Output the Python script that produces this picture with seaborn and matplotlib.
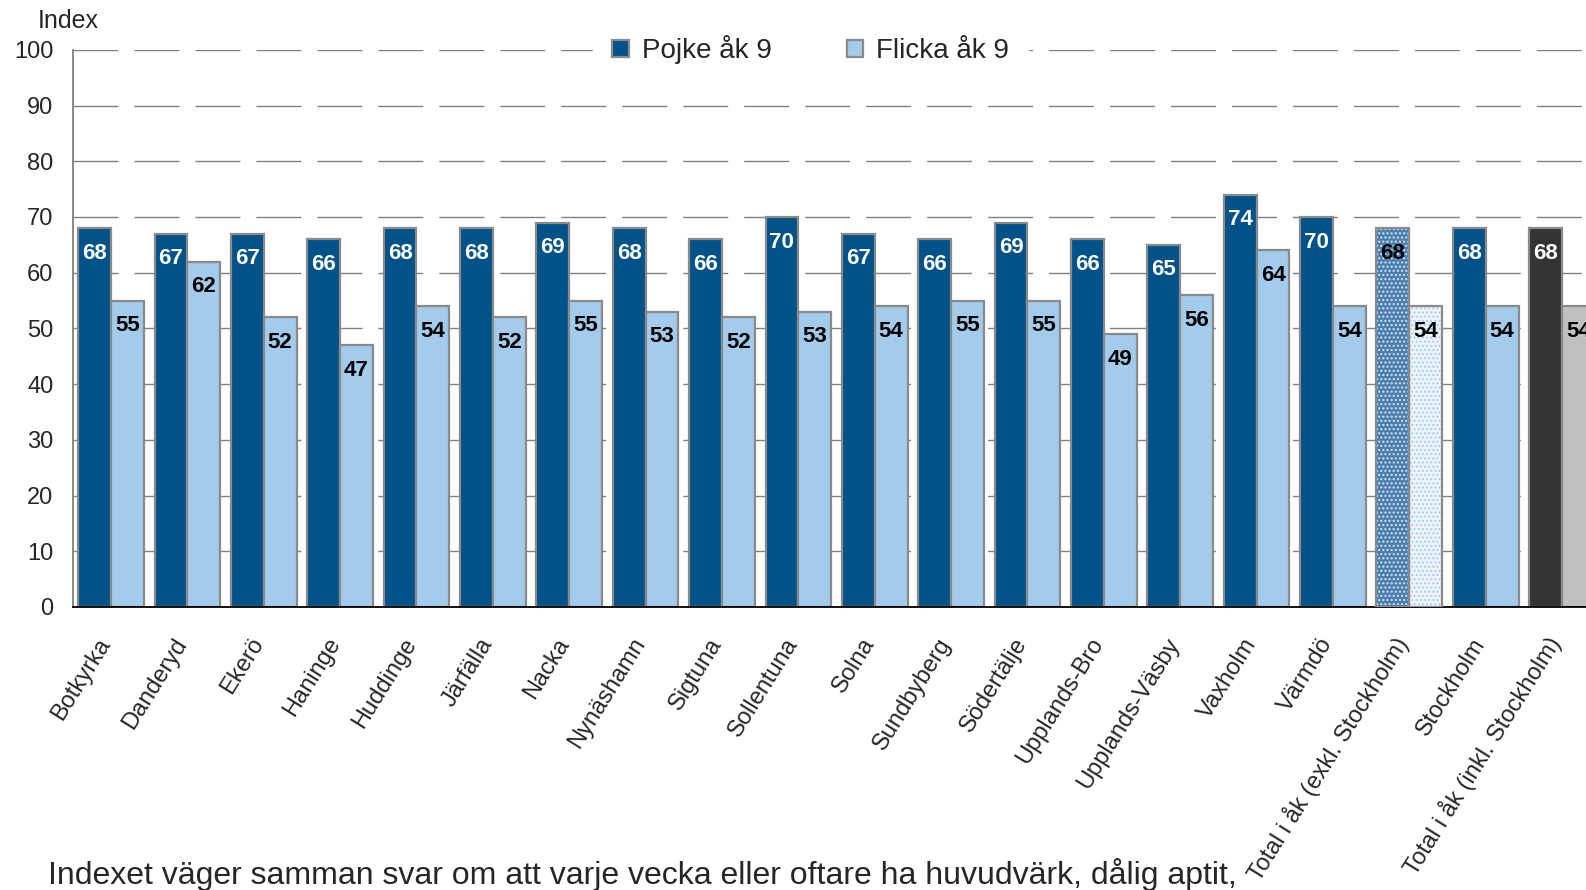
import pandas as pd
import matplotlib.pyplot as plt
import seaborn as sns

# Data
kommuner = ["Botkyrka", "Danderyd", "Ekerö", "Haninge", "Huddinge", "Järfälla", "Nacka",
            "Nynäshamn", "Sigtuna", "Sollentuna", "Solna", "Sundbyberg", "Södertälje",
            "Upplands-Bro", "Upplands-Väsby", "Vaxholm", "Värmdö",
            "Total i åk (exkl. Stockholm)", "Stockholm", "Total i åk (inkl. Stockholm)"]
pojke = [68, 67, 67, 66, 68, 68, 69, 68, 66, 70, 67, 66, 69, 66, 65, 74, 70, 68, 68, 68]
flicka = [55, 62, 52, 47, 54, 52, 55, 53, 52, 53, 54, 55, 55, 49, 56, 64, 54, 54, 54, 54]
serier = ["Pojke åk 9", "Flicka åk 9"]

df = pd.DataFrame({"Kommun": kommuner * 2,
                   "Grupp": [serier[0]] * len(kommuner) + [serier[1]] * len(kommuner),
                   "Index": pojke + flicka})

sns.set_style("white")
plt.rcParams["font.family"] = ["Liberation Sans", "DejaVu Sans"]

morkbla = "#005289"
ljusbla = "#a2cbec"
kant = "#8a8a8a"

fig = plt.figure(figsize=(15.86, 8.9), dpi=100)
ax = fig.add_axes([0.0459, 0.318, 0.9631, 0.626])

sns.barplot(data=df, x="Kommun", y="Index", hue="Grupp", palette=[morkbla, ljusbla],
            width=0.86, edgecolor=kant, linewidth=1.6, saturation=1, ax=ax, zorder=2)

# specialfärger för totalerna
pb, fb = ax.containers[0], ax.containers[1]
i_exkl = kommuner.index("Total i åk (exkl. Stockholm)")
i_inkl = kommuner.index("Total i åk (inkl. Stockholm)")
for bar, fc, hc in [(pb[i_exkl], "#4a7fb0", "#d5e5f3"), (fb[i_exkl], "#eef5fc", "#a9cdeb")]:
    bar.set_facecolor(fc)
    bar.set_edgecolor(hc)
    bar.set_hatch("....")
    bar.set_linewidth(0)
    ax.bar(bar.get_x() + bar.get_width() / 2, bar.get_height(), width=bar.get_width(),
           fill=False, edgecolor=kant, linewidth=1.6, zorder=3)
pb[i_inkl].set_facecolor("#333333")
fb[i_inkl].set_facecolor("#c0c0c0")

# etiketter
for i, (p, f) in enumerate(zip(pojke, flicka)):
    ax.text(pb[i].get_x() + pb[i].get_width() / 2, p - 4.5, str(p), ha="center", va="center",
            fontsize=16, fontweight="bold", color="black" if i == i_exkl else "white", zorder=4)
    ax.text(fb[i].get_x() + fb[i].get_width() / 2, f - 4.5, str(f), ha="center", va="center",
            fontsize=16, fontweight="bold", color="black", zorder=4)

ax.set_xlim(-0.5, 19.5)
ax.set_ylim(0, 100)
ax.set_yticks(range(0, 101, 10))
ax.yaxis.grid(True, color="#808080", linewidth=1, linestyle=(0, (32.4, 11.5)), zorder=0)
ax.set_axisbelow(True)
ax.set_xlabel("")
ax.set_ylabel("")
ax.tick_params(axis="y", length=0, pad=14, labelsize=17)
ax.tick_params(axis="x", length=0, pad=26, labelsize=17)
plt.setp(ax.get_xticklabels(), rotation=58, ha="right", va="baseline", rotation_mode="anchor")
for s in ["top", "right"]:
    ax.spines[s].set_visible(False)
ax.spines["left"].set_color("#808080")
ax.spines["left"].set_linewidth(1.3)
ax.spines["bottom"].set_color("black")
ax.spines["bottom"].set_linewidth(1.3)

leg = ax.legend(loc="center", bbox_to_anchor=(0.483, 1.0), ncol=2, frameon=True, fontsize=20,
                handlelength=0.6, handleheight=0.6, columnspacing=2.7, handletextpad=0.45,
                borderpad=0.7, fancybox=False)
leg.get_frame().set_edgecolor("white")
leg.get_frame().set_facecolor("white")
leg.get_frame().set_alpha(1)
for h in leg.legend_handles:
    h.set_edgecolor(kant)
    h.set_linewidth(1.6)

fig.text(0.0236, 0.976, "Index", fontsize=18, va="center", ha="left")
fig.text(0.030, 0.0067, "Indexet väger samman svar om att varje vecka eller oftare ha huvudvärk, dålig aptit,",
         fontsize=23, va="baseline", ha="left")

plt.savefig("out.png", dpi=100)
